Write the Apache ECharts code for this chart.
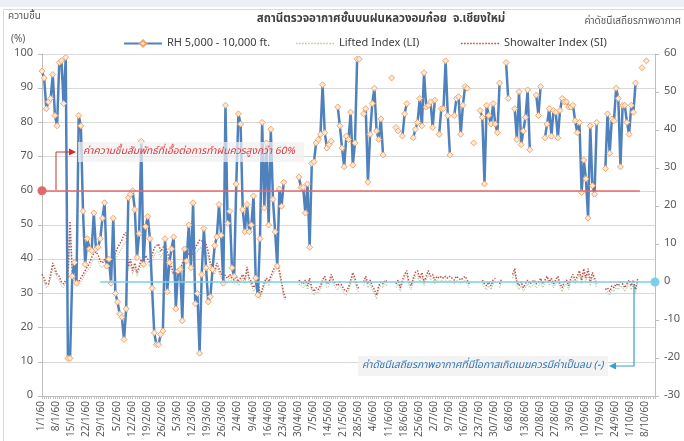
<!DOCTYPE html>
<html>
<head>
<meta charset="utf-8">
<script src="https://cdn.jsdelivr.net/npm/echarts@6/dist/echarts.min.js"></script>
<style>
  html, body { margin: 0; padding: 0; background: #fff; }
  #main { width: 684px; height: 441px; }
</style>
</head>
<body>
<div id="main"></div>
<script>
// daily categories 1/1/60 .. 12/10/60 (พ.ศ. 2560)
var categories = [];
for (var i = 0; i < 285; i++) {
    var d = new Date(2017, 0, 1 + i);
    categories.push(d.getDate() + '/' + (d.getMonth() + 1) + '/60');
}

// RH 5,000 - 10,000 ft. (%), one row per week
var rh = [
    95, 93, 84, 86, 87, 94, 82,
    79, 97.5, 98, 85.5, 99, 11, 11,
    35, 39, 33, 82, 79, 54, 38.5,
    46, 43, 42.5, 53.5, 43, 43.5, 46,
    52, 56.5, 38, 40, 33, 52, 30,
    27.5, 24, 23, 16.5, 25.5, 58, 59,
    60, 54.5, 40.5, 47.5, 74.5, 38.5, 49.5,
    52.5, 46, 31.5, 18.5, 15, 15, 18,
    19, 46, 30.5, 39, 43, 46.5, 25.5,
    36.5, 37, 22, 43, 39.5, 50, 37.5,
    56.5, 27, 30, 12.5, 35.5, 49, 37.5,
    27.5, 29, 37, 44, 46.5, 56, 47,
    33, 85, 50.5, 54, 37.5, 35, 62,
    82.5, 79.5, 54.5, 48, 56, 48, 50,
    58.5, 34.5, 29.5, 46, 80, 55, 74,
    50, 78, 57.5, 48, 38, 60.5, 55.5,
    62.5, null, null, null, null, null, null,
    64, 61, 61, 53.5, 62, 43.5, 68,
    68.5, 74, 75, 76.5, 91, 77, 72.5,
    73.5, 74.5, null, null, 84.5, 79, 72.5,
    67, 76, 75, 83, 67.5, 74, 98.5,
    98.5, null, 82.5, 84, 62.5, 76.5, 85.5,
    90, 77.5, 75, 81, 70.5, null, null,
    null, 93, null, 78.5, 77.5, null, 76,
    82.5, 85.5, null, null, 75.5, 78, 80,
    87, 79, 94.5, 84.5, 85, 86, 78.5,
    86.5, null, 76.5, 84, 84, 98, 82,
    70.5, null, 82, 87, 87.5, 76.5, 85,
    90.5, 90, null, null, 74, null, null,
    83.5, 81.5, 62, 85, 82, 79.5, 85.5,
    79.5, 77, 91.5, null, null, 97.5, 87,
    null, null, 84, 75, 89, 73.5, 77.5,
    81.5, 89.5, 72, null, null, 88, 82,
    90.5, null, 75.5, 79.5, 84, 76, 83.5,
    83, 75.5, 83.5, 87, 86, 86, 84.5,
    84.5, 85, 80.5, 77, 80, 59.5, 69,
    63.5, 52, 79, 61.5, 59, 80, null,
    null, null, 66.5, 82.5, 71, 81, 80.5,
    90, 87, 67, 85, 85, 80, 76.5,
    85, 83, 91.5, null, null, 96, null,
    98, null, null, null, null
];

// Lifted Index (LI)
var li = [
    1, 0, -1.5, -1, 1, 3.5, 2.5,
    1, 0.5, -1, -1.5, 0, 0, 12,
    2, 0, -0.5, -1, 0, 1, 2,
    3, 3.5, 5, 6, 6.5, 5.5, 4,
    4, 4.5, 3.5, 4, 5, 5.5, 6,
    7, 8, 9, 10, 10.5, 3, 4.5,
    2, 4, 1.5, 3, 4.5, 4, 5.5,
    5, 4, 5.5, 7, 8, 8, 6.5,
    7.5, 8, 6.5, 5, 3, 1, 2,
    0.5, 2, 4, 5, 6.5, 5.5, 7,
    5.5, 7.5, 8, 9, 9, 7.5, 8,
    6.5, 4, 3, 2, 4, 2.5, 1,
    1.5, 0.5, 0, 1, 0, -0.5, 0.5,
    -1, 0, 1, -0.5, 3, 0, -1,
    -2.5, -1.5, 0, -4.5, -3, -1, 0,
    -1, 0.5, 2, 3, 4, 2, -1,
    -4, -5, null, null, null, null, null,
    -0.5, -1, -1.5, -0.5, -2, 0, -2.5,
    -3.5, -2.5, -3, -2, -0.5, 0.5, -1.5,
    -1, 1, -0.5, -1.5, -2, -1, -2,
    -3, -3.5, -2.5, -0.5, 1.5, 0, -2,
    -3, null, -1, 0.5, -1.5, -0.5, -2,
    -3, -4.5, -2, -1, -1.5, -0.5, -1,
    null, 0, null, -1.5, -0.5, -2.5, -0.5,
    1, 2, -1, -2, 0, 1.5, 2,
    0, 1.5, -1, 0.5, 2, 0.5, 1,
    -0.5, 0.5, 0, 0.5, 0, 0.5, 0,
    0.5, 0, -0.5, 0.5, 0, -0.5, 0,
    0.5, -0.5, -1.5, null, -0.5, null, null,
    null, -0.5, -1.5, -2, -1, -2, -0.5,
    0, null, -1.5, 0, null, null, null,
    null, 1, 2.5, -1, -2, -1, -2.5,
    -1.5, -0.5, -1.5, -1, -0.5, -1.5, -1,
    0, -1.5, -0.5, 0.5, -1, 0, -1.5,
    -0.5, 0.5, -1.5, -2.5, -1, -0.5, -2,
    0, 1, -0.5, 0.5, 2, -0.5, 2.5,
    0, 2.5, -1, 1.5, 0, -1.5, null,
    null, null, -3, -2.5, -3.5, -2, -2.5,
    -1.5, -2, -1, -1.5, -2.5, -1.5, -0.5,
    -2, -0.5, -3, 0, null, -1.5, null,
    null, -3, null, null, null
];

// Showalter Index (SI)
var si = [
    2, 1, -0.5, -0.5, 2, 5, 3.5,
    2, 1.5, 0, -0.5, 0.5, 1, 16,
    3, 1, 0.5, 0, 1, 2, 3,
    4, 5, 6.5, 7.5, 8, 7, 5.5,
    5, 6, 4.5, 5, 6, 7, 7.5,
    9, 10, 11, 12.5, 13, 4, 6,
    3, 5, 2.5, 4, 6, 5, 7,
    6, 5, 7, 9, 9.5, 10, 8,
    9, 10, 8, 6, 4, 2, 3,
    1.5, 3, 5, 6, 8, 7, 8.5,
    7, 9, 10, 11, 11, 9, 10,
    8, 5, 4, 3, 5, 3.5, 2,
    2.5, 1.5, 1, 2, 1, 0.5, 1.5,
    0, 1, 2, 0.5, 4, 1, 0,
    -1.5, -0.5, 1, -3.5, -2, 0, 1,
    0, 1.5, 3, 4, 5, 3, 0,
    -3, -4.5, null, null, null, null, null,
    0.5, 0, -0.5, 0.5, -1, 1, -1.5,
    -2.5, -1.5, -2, -1, 0.5, 1.5, -0.5,
    0, 2, 0.5, -0.5, -1, 0, -1,
    -2, -2.5, -1.5, 0.5, 2.5, 1, -1,
    -2, null, 0, 1.5, -0.5, 0.5, -1,
    -2, -3.5, -1, 0, -0.5, 0.5, 0,
    null, 1, null, -0.5, 0.5, -1.5, 0.5,
    2, 3, 0, -1, 1, 2.5, 3,
    1, 2.5, 0, 1.5, 3, 1.5, 2,
    0.5, 1.5, 1, 1.5, 1, 1.5, 1,
    1.5, 1, 0.5, 1.5, 1, 0.5, 1,
    1.5, 0.5, -0.5, null, 0.5, null, null,
    null, 0.5, -0.5, -1, 0, -1, 0.5,
    1, null, -0.5, 1, null, null, null,
    null, 2, 3.5, 0, -1, 0, -1.5,
    -0.5, 0.5, -0.5, 0, 0.5, -0.5, 0,
    1, -0.5, 0.5, 1.5, 0, 1, -0.5,
    0.5, 1.5, -0.5, -1.5, 0, 0.5, -1,
    1, 2, 0.5, 1.5, 3, 0.5, 3.5,
    1, 3.5, 0, 2.5, 1, -0.5, null,
    null, null, -2, -1.5, -2.5, -1, -1.5,
    -0.5, -1, 0, -0.5, -1.5, -0.5, 0.5,
    -1, 0.5, -2, 1, null, -0.5, null,
    null, -2, null, null, null
];

var rhThreshold = 60;   // ความชื้นที่เหมาะสม
var siThreshold = 0;    // ดัชนีควรติดลบ

var thai = "'Noto Sans Thai', Tahoma, 'DejaVu Sans', sans-serif";
var legendText = { fontSize: 11, color: '#404040', fontFamily: thai };

// เส้นประสำหรับ legend
var dotted = 'path://';
for (var k = 0; k < 13; k++) {
    dotted += 'M' + (k * 3) + ',0h1.6v1.6h-1.6z';
}

var myChart = echarts.init(document.getElementById('main'));

var option = {
    animation: false,
    backgroundColor: '#fff',
    textStyle: { fontFamily: thai },
    grid: { left: 42, right: 29, top: 54, bottom: 45 },
    legend: [
        { left: 118, top: 33, itemWidth: 38, itemHeight: 8, textStyle: legendText, data: ['RH 5,000 - 10,000 ft.'] },
        { left: 291, top: 33, itemWidth: 38, itemHeight: 8, textStyle: legendText, data: [{ name: 'Lifted Index (LI)', icon: dotted }] },
        { left: 456, top: 33, itemWidth: 38, itemHeight: 8, textStyle: legendText, data: [{ name: 'Showalter Index (SI)', icon: dotted }] }
    ],
    xAxis: {
        type: 'category',
        boundaryGap: false,
        data: categories,
        axisLine: { lineStyle: { color: '#bfbfbf' } },
        axisTick: { interval: 0, length: 3, lineStyle: { color: '#bfbfbf' } },
        axisLabel: { interval: 6, rotate: 90, fontSize: 10, color: '#595959', margin: 5 },
        splitLine: { show: false }
    },
    yAxis: [{
        type: 'value',
        min: 0, max: 100, interval: 10,
        axisLine: { show: true, lineStyle: { color: '#bfbfbf' } },
        axisTick: { show: true, length: 4, lineStyle: { color: '#bfbfbf' } },
        axisLabel: { fontSize: 11, color: '#595959', margin: 9 },
        splitLine: { lineStyle: { color: '#d9d9d9' } }
    }, {
        type: 'value',
        position: 'right',
        min: -30, max: 60, interval: 10,
        axisLine: { show: true, lineStyle: { color: '#bfbfbf' } },
        axisTick: { show: true, length: 4, lineStyle: { color: '#bfbfbf' } },
        axisLabel: { fontSize: 11, color: '#595959', margin: 9 },
        splitLine: { show: false }
    }],
    series: [{
        name: 'Lifted Index (LI)',
        type: 'line',
        yAxisIndex: 1,
        data: li,
        symbol: 'none',
        connectNulls: false,
        lineStyle: { color: '#b5cfa6', width: 1.2, type: 'dotted' },
        itemStyle: { color: '#b5cfa6' },
        z: 2
    }, {
        name: 'Showalter Index (SI)',
        type: 'line',
        yAxisIndex: 1,
        data: si,
        symbol: 'none',
        connectNulls: false,
        lineStyle: { color: '#c0504d', width: 1.5, type: 'dotted' },
        itemStyle: { color: '#c0504d' },
        z: 3,
        markLine: {
            silent: true,
            symbol: ['none', 'circle'],
            symbolSize: 9,
            label: { show: false },
            itemStyle: { color: '#3fb3da' },
            lineStyle: { color: '#7fcde6', width: 1.5, type: 'solid', opacity: 1 },
            data: [[
                { coord: [categories[27], siThreshold], lineStyle: { color: '#7fcde6' } },
                { coord: [categories[284], siThreshold], itemStyle: { color: '#3fb3da' } }
            ]]
        }
    }, {
        name: 'RH 5,000 - 10,000 ft.',
        type: 'line',
        yAxisIndex: 0,
        data: rh,
        connectNulls: false,
        symbol: 'diamond',
        symbolSize: 6,
        showAllSymbol: true,
        lineStyle: { color: '#4f81bd', width: 2.5 },
        itemStyle: { color: '#fde8d4', borderColor: '#f2a66a', borderWidth: 1 },
        z: 4,
        markLine: {
            silent: true,
            symbol: ['circle', 'none'],
            symbolSize: 9,
            label: { show: false },
            itemStyle: { color: '#e03c3c' },
            lineStyle: { color: '#e06a6a', width: 1.5, type: 'solid', opacity: 1 },
            data: [[
                { coord: [categories[0], rhThreshold], itemStyle: { color: '#e03c3c' }, lineStyle: { color: '#e06a6a' } },
                { coord: [categories[277], rhThreshold] }
            ]]
        }
    }],
    graphic: [
        // กรอบและแถบบน
        { type: 'rect', shape: { x: 0, y: 0, width: 684, height: 7 }, style: { fill: '#eceff3' }, silent: true },
        { type: 'rect', shape: { x: 3.5, y: 9.5, width: 690, height: 440 }, style: { fill: 'none', stroke: '#d9d9d9' }, silent: true },
        // หัวข้อ
        { type: 'text', left: 8, top: 12, style: { text: 'ความชื้น', fontSize: 10, fill: '#595959', fontFamily: thai } },
        { type: 'text', left: 11, top: 35, style: { text: '(%)', fontSize: 10, fill: '#595959', fontFamily: thai } },
        { type: 'text', x: 381, y: 20, style: { text: 'สถานีตรวจอากาศชั้นบนฝนหลวงอมก๋อย  จ.เชียงใหม่', fontSize: 11.5, fontWeight: 'bold', fill: '#404040', align: 'center', verticalAlign: 'middle', fontFamily: thai } },
        { type: 'text', x: 681, y: 22, style: { text: 'ค่าดัชนีเสถียรภาพอากาศ', fontSize: 10, fill: '#595959', align: 'right', verticalAlign: 'middle', fontFamily: thai } },
        // คำอธิบายเส้น 60%
        { type: 'polyline', z: 100, shape: { points: [[56, 190], [56, 152], [70, 152]] }, style: { stroke: '#c0392b', lineWidth: 1, fill: 'none' }, silent: true },
        { type: 'polygon', z: 100, shape: { points: [[69, 148.5], [76, 152], [69, 155.5]] }, style: { fill: '#d42a2a' }, silent: true },
        { type: 'rect', z: 100, shape: { x: 78, y: 142, width: 226, height: 20 }, style: { fill: 'rgba(240,240,240,0.72)' }, silent: true },
        { type: 'text', z: 101, x: 83, y: 152, style: { text: 'ค่าความชื้นสัมพัทธ์ที่เอื้อต่อการทำฝนควรสูงกว่า 60%', fontSize: 10.2, fontStyle: 'italic', fill: '#e0363a', verticalAlign: 'middle', fontFamily: thai } },
        // คำอธิบายเส้นดัชนี 0
        { type: 'polyline', z: 100, shape: { points: [[634, 284], [634, 366], [615, 366]] }, style: { stroke: '#2fa4cc', lineWidth: 1.2, fill: 'none' }, silent: true },
        { type: 'polygon', z: 100, shape: { points: [[616, 362.5], [609, 366], [616, 369.5]] }, style: { fill: '#2fa4cc' }, silent: true },
        { type: 'rect', z: 100, shape: { x: 358, y: 356, width: 250, height: 20 }, style: { fill: 'rgba(240,240,240,0.8)' }, silent: true },
        { type: 'text', z: 101, x: 362, y: 366, style: { text: 'ค่าดัชนีเสถียรภาพอากาศที่มีโอกาสเกิดเมฆควรมีค่าเป็นลบ (-)', fontSize: 10.3, fontStyle: 'italic', fill: '#2e75b6', verticalAlign: 'middle', fontFamily: thai } }
    ]
};

myChart.setOption(option);
</script>
</body>
</html>
